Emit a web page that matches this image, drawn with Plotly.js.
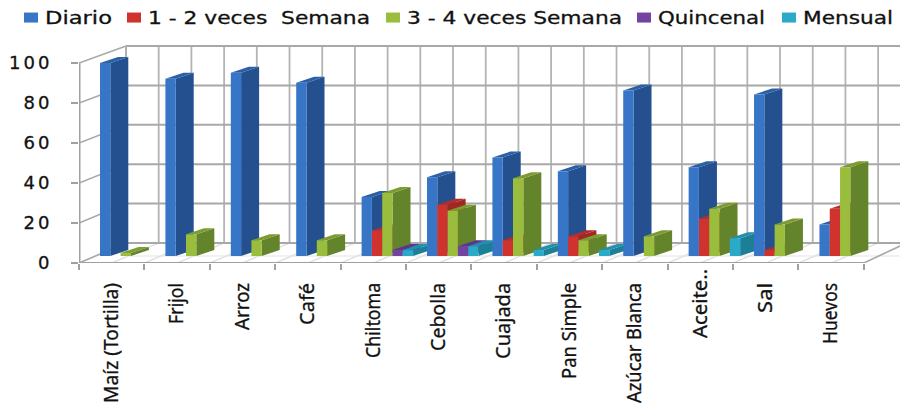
<!DOCTYPE html>
<html><head><meta charset="utf-8">
<script src="https://cdn.plot.ly/plotly-3.0.1.min.js"></script>
<style>
html,body{margin:0;padding:0;background:#fff;overflow:hidden}
#c{width:900px;height:403px}
.ytick text{letter-spacing:3px}
.legendtext,.ytick text,.x2tick text{stroke:#111;stroke-width:.3px}
</style></head><body><div id="c"></div>
<script>
const categories=["Maíz (Tortilla)","Frijol","Arroz","Café","Chiltoma","Cebolla","Cuajada","Pan Simple","Azúcar Blanca","Aceite..","Sal","Huevos"];
const seriesNames=["Diario","1 - 2 veces  Semana","3 - 4 veces Semana","Quincenal","Mensual"];
const diario  =[98,90,93,88,30,40,50,43,84,45,82,16];
const semana12=[null,null,null,null,13,26,8,10,null,19,3,24];
const semana34=[1.5,11,8,8,32,23,39.5,8,10,24,16,45];
const quincenal=[null,null,null,null,3,5,null,null,null,null,null,null];
const mensual =[null,null,null,null,3,5,3,3,null,9,null,null];
const yTicks=[0,20,40,60,80,100];
const frontColors=["#3776c6","#d0332e","#9bbd3d","#7342a3","#2aa9c9"];
const sideColors=["#24508f","#a02824","#64842c","#4f2d78","#1c7f98"];
const topColors=["#2b5fa8","#b52c28","#7c9c32","#5c3590","#2090ad"];
// text fitting (the reference picture is horizontally stretched)
const legendLeft=[25,128,387,638,783];
const legendWidth=[67,222,215,107,90];
const labelLength=[120,41,47,42,75,68,76,96,120,69,30,61];

const seriesValues=[diario,semana12,semana34,quincenal,mensual];
const catPx=65.4, gap=21/catPx, barW=10.3/catPx;
const depthX=18/catPx, depthY=3;
const wallX=47/catPx, wallY=10, xEnd=12.053;
const plane=v=>3.5+0.985*v, wall=v=>wallY+0.985*v;
const traces=[];
function lines(segs,color,width){
  const x=[],y=[];
  segs.forEach(s=>{x.push(s[0],s[2],null);y.push(s[1],s[3],null);});
  traces.push({type:"scatter",mode:"lines",x,y,xaxis:"x",yaxis:"y",cliponaxis:false,showlegend:false,hoverinfo:"skip",
    line:{color,width}});
}
const floorSegs=[];
for(let j=0;j<24;j++){floorSegs.push([-0.5+j/2,0,-0.5+j/2+wallX,wallY]);}
lines(floorSegs,"#dcdcdc",1.3);
lines([[-0.5+wallX,3.5,xEnd,3.5]],"#e4e4e4",1.2);
const wallV=[];
for(let j=0;j<24;j++){const xx=-0.5+wallX+j/2; wallV.push([xx,wallY,xx,wall(100)]);}
lines(wallV,"#b4b4b4",1.8);
lines(yTicks.map(v=>[-0.5+wallX,wall(v),xEnd,wall(v)]),"#a8a8a8",2);
lines(yTicks.slice(1).map(v=>[-0.5,v,-0.5+wallX,wall(v)]),"#a8a8a8",1.6);
lines([[-0.5,0,-0.5+wallX,wallY],[11.5,0,xEnd,8.5]],"#a8a8a8",1.6);
lines([[-0.5+wallX,wallY,-0.5+wallX,wall(100)]],"#b0b0b0",2);
lines([[-0.5,0,-0.5,100]],"#a0a0a0",3);
lines([[-0.5,0,11.5,0]],"#a0a0a0",1.8);
seriesValues.forEach((vals,k)=>{
  const sx=[],sy=[],tx=[],ty=[];
  vals.forEach((v,i)=>{
    if(v===null)return;
    const xl=i-0.5+gap+barW*k, xr=xl+barW, b=plane(0), t=plane(v);
    sx.push(xr,xr+depthX,xr+depthX,xr,xr,null);
    sy.push(b,b+depthY,t+depthY,t,b,null);
    tx.push(xl,xl+depthX,xr+depthX,xr,xl,null);
    ty.push(t,t+depthY,t+depthY,t,t,null);
  });
  traces.push({type:"scatter",mode:"lines",x:sx,y:sy,xaxis:"x",yaxis:"y",fill:"toself",fillcolor:sideColors[k],line:{width:0,color:sideColors[k]},showlegend:false,hoverinfo:"skip"});
  traces.push({type:"scatter",mode:"lines",x:tx,y:ty,xaxis:"x",yaxis:"y",fill:"toself",fillcolor:topColors[k],line:{width:0,color:topColors[k]},showlegend:false,hoverinfo:"skip"});
});
seriesValues.forEach((vals,k)=>{
  traces.push({type:"bar",name:seriesNames[k],x:categories,y:vals,xaxis:"x2",yaxis:"y2",
    width:barW,offset:-0.5+gap+barW*k,marker:{color:frontColors[k],line:{width:0}}});
});
const layout={
  width:900,height:403,margin:{l:79,r:0,t:40,b:140,autoexpand:false},
  paper_bgcolor:"#fff",plot_bgcolor:"#fff",
  barmode:"overlay",showlegend:true,
  legend:{orientation:"h",x:0,xref:"container",y:1,yref:"container",yanchor:"top",
    font:{family:"DejaVu Sans",size:17,color:"#111"},itemwidth:30,traceorder:"normal",bgcolor:"rgba(0,0,0,0)"},
  xaxis:{type:"linear",range:[-0.5,xEnd],visible:false,fixedrange:true},
  yaxis:{type:"linear",range:[0,111.5],tickvals:yTicks,ticktext:yTicks.map(String),ticks:"outside",ticklen:7,tickwidth:2,tickcolor:"#a0a0a0",
    ticklabelstandoff:15,showgrid:false,zeroline:false,showline:false,fixedrange:true,
    tickfont:{family:"DejaVu Sans",size:18,color:"#111"}},
  xaxis2:{type:"category",overlaying:"x",anchor:"y",categoryorder:"array",categoryarray:categories,range:[-0.5,xEnd],
    tickson:"boundaries",ticks:"outside",ticklen:6,tickwidth:2,tickcolor:"#a0a0a0",tickangle:-90,ticklabelstandoff:15,
    showgrid:false,zeroline:false,showline:false,fixedrange:true,
    tickfont:{family:"Noto Sans",size:19.5,color:"#111"}},
  yaxis2:{type:"linear",overlaying:"y",range:[-7/1.97,216/1.97],visible:false,fixedrange:true}
};
Plotly.newPlot("c",traces,layout,{displayModeBar:false,staticPlot:true}).then(()=>{
  const sb=document.querySelector(".legend .scrollbox");
  if(sb)sb.removeAttribute("clip-path");
  document.querySelectorAll(".legend .traces").forEach((g,k)=>{
    const m=(g.getAttribute("transform")||"").match(/,\s*([\d.\-]+)/);
    g.setAttribute("transform","translate("+(legendLeft[k]-14)+","+(m?m[1]:0)+")");
    const t=g.querySelector("text.legendtext");
    t.setAttribute("x",34);
    t.setAttribute("textLength",legendWidth[k]);
    t.setAttribute("lengthAdjust","spacingAndGlyphs");
    const p=g.querySelector(".legendpoints path");
    if(p)p.setAttribute("d","M7,5H-7V-5H7Z");
  });
  document.querySelectorAll(".x2tick text").forEach((t,i)=>{
    t.setAttribute("textLength",labelLength[i]);
    t.setAttribute("lengthAdjust","spacingAndGlyphs");
    if(categories[i]==="Aceite..")t.setAttribute("dx",14);
  });
});
</script></body></html>
